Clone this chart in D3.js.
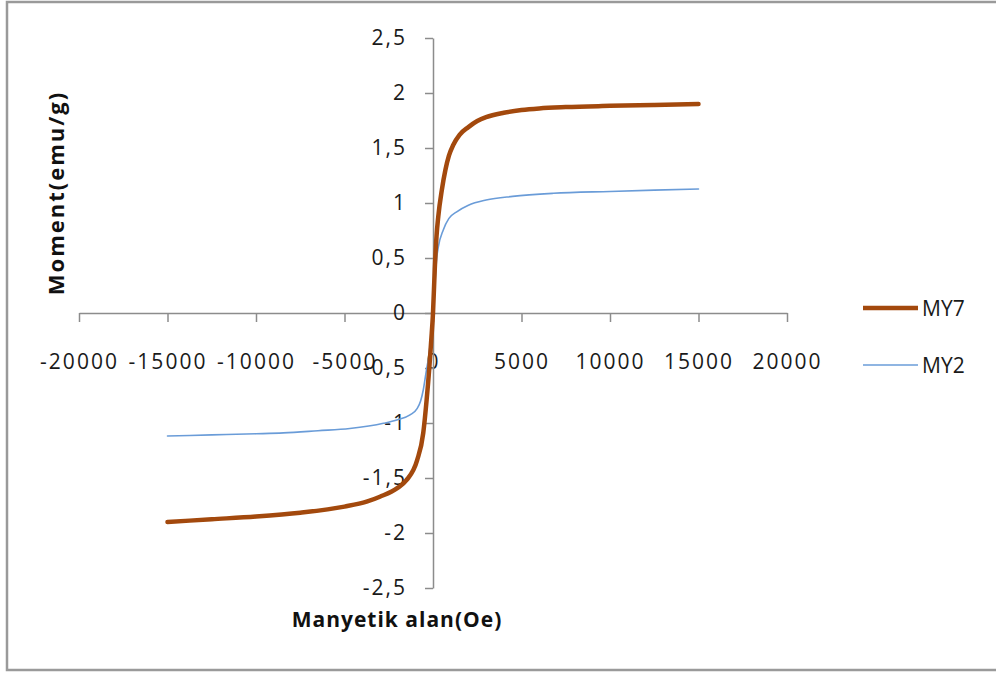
<!DOCTYPE html>
<html><head><meta charset="utf-8">
<script src="https://cdn.jsdelivr.net/npm/d3@7"></script>
<style>
body{margin:0;background:#fff;}
svg{display:block;}
</style></head>
<body><svg id="chart" width="996" height="673"></svg>
<script>
// Data
const seriesNames = ["MY7", "MY2"];
const my7Field = [-15000,-12500,-10000,-7500,-5000,-3750,-3000,-2000,-1500,-900,-550,-360,-200,-100,0,100,200,300,500,700,900,1150,1500,2000,2500,3000,4000,5000,6000,7500,10000,12500,15000];
const my7Moment = [-1.90,-1.875,-1.85,-1.815,-1.76,-1.715,-1.67,-1.59,-1.52,-1.34,-1.09,-0.79,-0.48,-0.25,0,0.40,0.70,0.88,1.12,1.30,1.43,1.53,1.62,1.69,1.745,1.78,1.82,1.845,1.86,1.872,1.883,1.892,1.90];
const my2Field = [-15000,-12500,-10000,-8450,-6500,-4700,-2800,-2000,-1300,-900,-700,-550,-400,-250,-100,0,100,210,300,580,900,1340,2000,3000,4500,6800,10000,12500,15000];
const my2Moment = [-1.118,-1.108,-1.098,-1.09,-1.07,-1.05,-1.003,-0.97,-0.927,-0.87,-0.80,-0.70,-0.55,-0.40,-0.20,0,0.25,0.50,0.60,0.755,0.86,0.92,0.98,1.027,1.06,1.088,1.105,1.117,1.127];
const xTicks = [-20000,-15000,-10000,-5000,0,5000,10000,15000,20000];
const yTicks = [-2.5,-2,-1.5,-1,-0.5,0,0.5,1,1.5,2,2.5];
const xTitle = "Manyetik alan(Oe)";
const yTitle = "Moment(emu/g)";

const colors = {MY7:"#A3490D", MY2:"#6A9CD8"};
const widths = {MY7:4.5, MY2:1.6};
const font = "'Open Sans', 'Liberation Sans', sans-serif";

const svg = d3.select("#chart");

// outer border
svg.append("rect").attr("x",7).attr("y",2).attr("width",1000).attr("height",668)
  .attr("fill","#fff").attr("stroke","#9a9a9a").attr("stroke-width",2.5);

const x = d3.scaleLinear().domain([-20000,20000]).range([79,787]);
const y = d3.scaleLinear().domain([-2.5,2.5]).range([588,38]);

const fmtY = d => String(d).replace(".", ",");

// X axis
const gx = svg.append("g").attr("transform",`translate(0,${y(0)})`)
  .call(d3.axisBottom(x).tickValues(xTicks).tickSize(9).tickSizeOuter(0).tickPadding(32).tickFormat(d=>String(d)));
// Y axis
const gy = svg.append("g").attr("transform",`translate(${x(0)},0)`)
  .call(d3.axisLeft(y).tickValues(yTicks).tickSize(8).tickSizeOuter(0).tickPadding(18).tickFormat(fmtY));

[gx,gy].forEach(g=>{
  g.select(".domain").attr("stroke","#8c8c8c").attr("stroke-width",1.5);
  g.selectAll(".tick line").attr("stroke","#8c8c8c").attr("stroke-width",1.5);
  g.selectAll(".tick text").attr("fill","#1a1a1a").style("font-family",font)
    .style("font-size","21px").style("letter-spacing","2px");
});

// series
const line = d3.line().x(d=>x(d[0])).y(d=>y(d[1])).curve(d3.curveMonotoneX);
const data = {
  MY2: my2Field.map((h,i)=>[h,my2Moment[i]]),
  MY7: my7Field.map((h,i)=>[h,my7Moment[i]])
};
["MY2","MY7"].forEach(k=>{
  svg.append("path").datum(data[k]).attr("d",line).attr("fill","none")
    .attr("stroke",colors[k]).attr("stroke-width",widths[k])
    .attr("stroke-linejoin","round").attr("stroke-linecap","round");
});

// titles
svg.append("text").attr("x",397).attr("y",627).attr("text-anchor","middle")
  .style("font-family",font).style("font-size","21px").style("font-weight","bold")
  .style("letter-spacing","1px").attr("fill","#111").text(xTitle);
svg.append("text").attr("transform","translate(64,193) rotate(-90)").attr("text-anchor","middle")
  .style("font-family",font).style("font-size","22px").style("font-weight","bold")
  .style("letter-spacing","2px").attr("fill","#111").text(yTitle);

// legend
const legY = {MY7:308, MY2:365};
seriesNames.forEach(k=>{
  svg.append("line").attr("x1",863).attr("x2",918).attr("y1",legY[k]).attr("y2",legY[k])
    .attr("stroke",colors[k]).attr("stroke-width",widths[k]);
  svg.append("text").attr("x",922).attr("y",legY[k]).attr("dy","0.36em")
    .style("font-family",font).style("font-size","21px").attr("fill","#1a1a1a").text(k);
});
</script></body></html>
